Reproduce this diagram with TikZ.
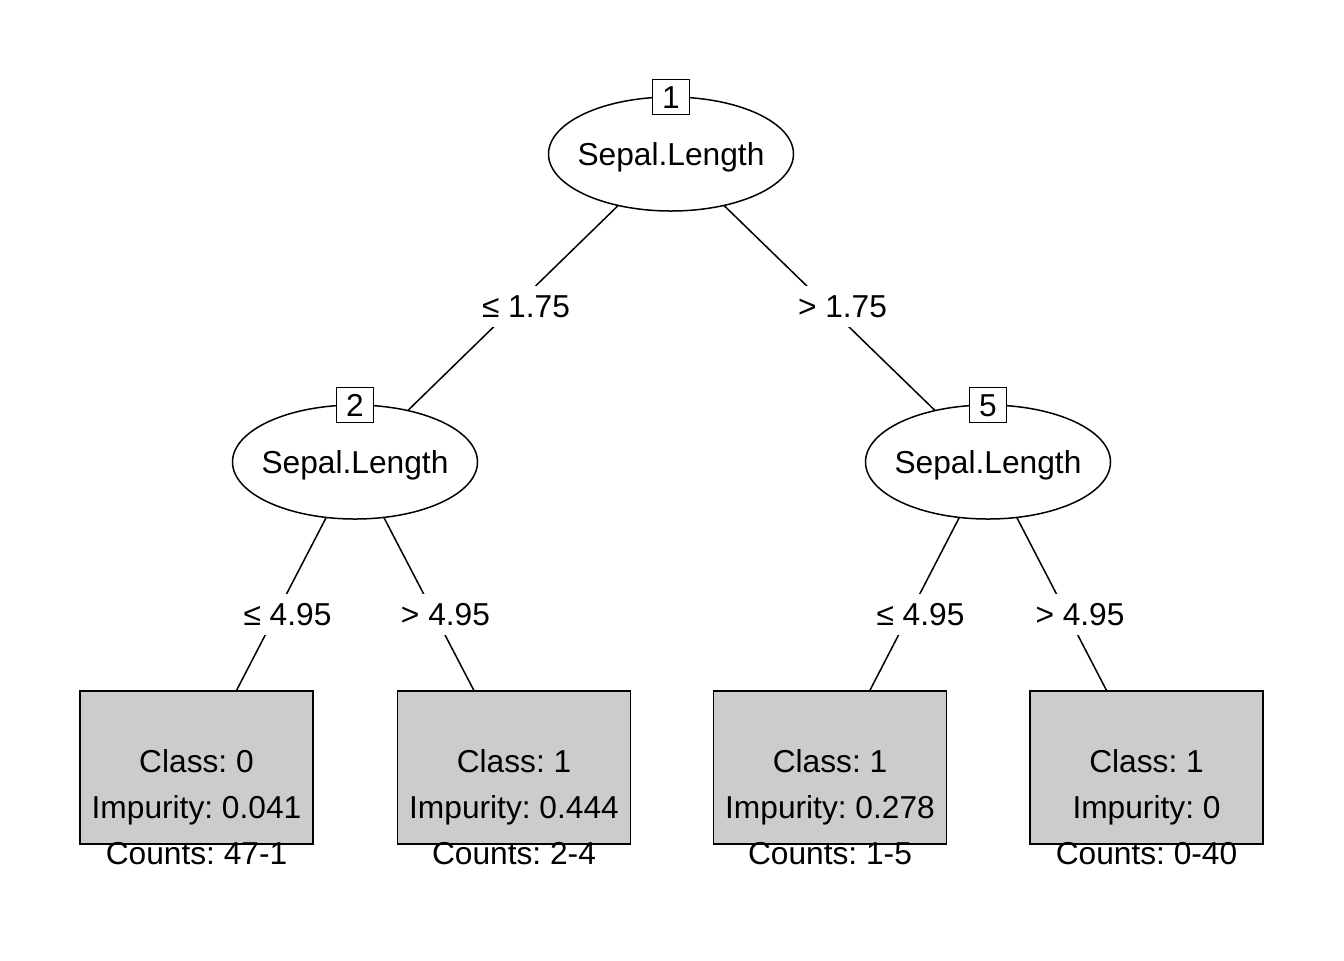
\documentclass[tikz,border=0pt]{standalone}
\usepackage{fontspec}
\setmainfont{Liberation Sans}
\frenchspacing
\usetikzlibrary{shapes.geometric}
\pgfdeclarelayer{bg}
\pgfsetlayers{bg,main}
\tikzset{
  every node/.style={font=\fontsize{15.85}{19}\selectfont\frenchspacing, text height=11.35pt, text depth=0pt, inner sep=0pt},
  splitnode/.style={ellipse, draw, line width=0.75pt, fill=white, minimum width=122.5pt, minimum height=57pt},
  idbox/.style={rectangle, draw, line width=0.75pt, fill=white, minimum width=18.5pt, minimum height=17.5pt},
  leafbox/.style={rectangle, draw, line width=0.75pt, fill=black!20, minimum width=116.5pt, minimum height=76.5pt},
  edgelab/.style={fill=white, inner xsep=1pt, minimum height=20.5pt},
  edgeline/.style={line width=0.75pt}
}
\begin{document}
\begin{tikzpicture}[x=0.5pt,y=-0.5pt]
\useasboundingbox (0,0) rectangle (1344,960);
% split nodes
\node[splitnode] (n1) at (671,154) {\makebox[0pt]{Sepal.Length}};
\node[splitnode] (n2) at (355,462) {\makebox[0pt]{Sepal.Length}};
\node[splitnode] (n5) at (988,462) {\makebox[0pt]{Sepal.Length}};
\node[idbox] (id1) at (671,97) {1};
\node[idbox] (id2) at (355,405) {2};
\node[idbox] (id5) at (988,405) {5};
% leaves
\node[leafbox] (l3) at (196.5,767.5) {};
\node[leafbox] (l4) at (514,767.5) {};
\node[leafbox] (l6) at (830,767.5) {};
\node[leafbox] (l7) at (1146.5,767.5) {};
% edges
\begin{pgfonlayer}{bg}
\draw[edgeline] (n1.center) -- (n2.center);
\draw[edgeline] (n1.center) -- (n5.center);
\draw[edgeline] (n2.center) -- (l3.center);
\draw[edgeline] (n2.center) -- (l4.center);
\draw[edgeline] (n5.center) -- (l6.center);
\draw[edgeline] (n5.center) -- (l7.center);
\end{pgfonlayer}
% edge labels
\node[edgelab] (e12) at (526,306.5) {≤ 1.75};
\node[edgelab] (e15) at (842.5,306.5) {> 1.75};
\node[edgelab] (e23) at (287.5,614) {≤ 4.95};
\node[edgelab] (e24) at (445.5,614) {> 4.95};
\node[edgelab] (e56) at (920.5,614) {≤ 4.95};
\node[edgelab] (e57) at (1080,614) {> 4.95};
% leaf texts
\node[anchor=base] (c3) at (196.5,772) {Class: 0};
\node[anchor=base] (i3) at (196.5,818) {Impurity: 0.041};
\node[anchor=base] (k3) at (196.5,864) {Counts: 47-1};
\node[anchor=base] (c4) at (514,772) {Class: 1};
\node[anchor=base] (i4) at (514,818) {Impurity: 0.444};
\node[anchor=base] (k4) at (514,864) {Counts: 2-4};
\node[anchor=base] (c6) at (830,772) {Class: 1};
\node[anchor=base] (i6) at (830,818) {Impurity: 0.278};
\node[anchor=base] (k6) at (830,864) {Counts: 1-5};
\node[anchor=base] (c7) at (1146.5,772) {Class: 1};
\node[anchor=base] (i7) at (1146.5,818) {Impurity: 0};
\node[anchor=base] (k7) at (1146.5,864) {Counts: 0-40};
\end{tikzpicture}
\end{document}
